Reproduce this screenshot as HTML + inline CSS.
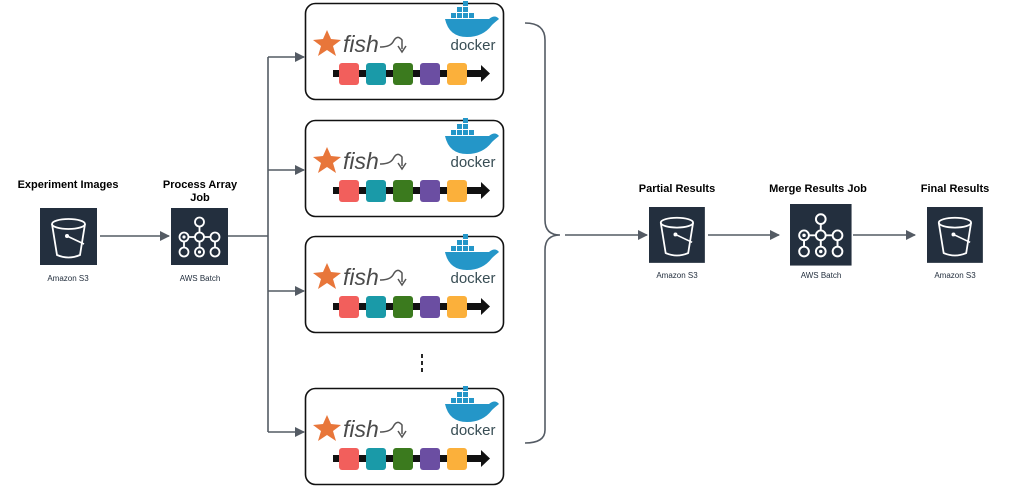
<!DOCTYPE html>
<html><head><meta charset="utf-8"><style>
body{margin:0;background:#fff;}
svg{display:block;font-family:"Liberation Sans",sans-serif;}
</style></head><body>
<svg width="1024" height="487" viewBox="0 0 1024 487">
<defs>
<marker id="ar" markerWidth="10" markerHeight="10" refX="9" refY="5" orient="auto" markerUnits="userSpaceOnUse">
<path d="M0,0 L10,5 L0,10 z" fill="#545b64"/></marker>
<g id="s3">
<rect width="57" height="57" fill="#232f3e"/>
<path d="M12,16 L17,47 Q28.5,52 40,47 L45,16" fill="none" stroke="#fff" stroke-width="1.8"/>
<ellipse cx="28.5" cy="16" rx="16.5" ry="5" fill="none" stroke="#fff" stroke-width="1.8"/>
<path d="M27,28 L44,36" stroke="#fff" stroke-width="1.6"/><circle cx="27" cy="28" r="2" fill="#fff"/>
</g>
<g id="bt">
<rect width="57" height="57" fill="#232f3e"/>
<g fill="none" stroke="#fff" stroke-width="1.8">
<circle cx="28.5" cy="14" r="4.5"/><circle cx="13" cy="29" r="4.5"/><circle cx="28.5" cy="29" r="4.5"/><circle cx="44" cy="29" r="4.5"/>
<circle cx="13" cy="44" r="4.5"/><circle cx="28.5" cy="44" r="4.5"/><circle cx="44" cy="44" r="4.5"/>
<path d="M28.5,18.5V24.5M17.5,29H24M33,29H39.5M44,33.5V39.5M13,33.5V39.5M28.5,33.5V39.5"/>
</g><circle cx="13" cy="29" r="1.6" fill="#fff"/><circle cx="28.5" cy="44" r="1.6" fill="#fff"/>
</g>
<g id="card">
<rect x="0.5" y="0.5" width="198" height="96" rx="10" fill="#fff" stroke="#111" stroke-width="1.6"/>
<path d="M22,27 l4,9 10,1 -8,6 3,10 -9,-6 -9,6 3,-10 -8,-6 10,-1z" fill="#e8763a"/>
<text x="38" y="49" font-size="23" font-style="italic" fill="#4a4a4a">fish</text>
<path d="M75,44 Q85,44 88,39 Q92,31 97,37 L97,46" fill="none" stroke="#555" stroke-width="1.5"/>
<path d="M93,43 L97,49 L101,43" fill="none" stroke="#555" stroke-width="1.5"/>
<rect x="28" y="67" width="150" height="7" fill="#111"/>
<path d="M176,62 L185,70.5 L176,79z" fill="#111"/>
<rect x="34" y="60" width="20" height="22" rx="3" fill="#f25f5c"/>
<rect x="61" y="60" width="20" height="22" rx="3" fill="#1a9aa8"/>
<rect x="88" y="60" width="20" height="22" rx="3" fill="#3b7a1e"/>
<rect x="115" y="60" width="20" height="22" rx="3" fill="#6b4ea2"/>
<rect x="142" y="60" width="20" height="22" rx="3" fill="#fbb03b"/>
<g fill="#2496c8"><rect x="152" y="4" width="5" height="5"/><rect x="158" y="4" width="5" height="5"/><rect x="158" y="10" width="5" height="5"/><rect x="152" y="10" width="5" height="5"/><rect x="164" y="10" width="5" height="5"/><rect x="146" y="10" width="5" height="5"/><rect x="158" y="-2" width="5" height="5"/>
<path d="M140,16 H184 Q190,11 194,16 Q189,20 187,22 Q178,34 162,34 Q144,34 140,16z"/></g>
<text x="168" y="47" font-size="15" fill="#384d54" text-anchor="middle">docker</text>
</g>
</defs>
<rect width="1024" height="487" fill="#fff"/>
<g font-size="11" font-weight="bold" fill="#000" text-anchor="middle">
<text x="68" y="188">Experiment Images</text>
<text x="200" y="188">Process Array</text><text x="200" y="201">Job</text>
<text x="677" y="192">Partial Results</text>
<text x="818" y="192">Merge Results Job</text>
<text x="955" y="192">Final Results</text>
</g>
<g font-size="8" fill="#232f3e" text-anchor="middle">
<text x="68" y="281">Amazon S3</text>
<text x="200" y="281">AWS Batch</text>
<text x="677" y="278">Amazon S3</text>
<text x="821" y="278">AWS Batch</text>
<text x="955" y="278">Amazon S3</text>
</g>
<use href="#s3" x="40" y="208"/>
<use href="#bt" x="171" y="208"/>
<use href="#s3" transform="translate(649,207) scale(0.98)"/>
<use href="#bt" transform="translate(790,204) scale(1.08)"/>
<use href="#s3" transform="translate(927,207) scale(0.98)"/>
<g stroke="#545b64" stroke-width="1.6" fill="none">
<path d="M100,236 H169" marker-end="url(#ar)"/>
<path d="M228,236 H268 M268,57 V432"/>
<path d="M268,57 H304" marker-end="url(#ar)"/>
<path d="M268,170 H304" marker-end="url(#ar)"/>
<path d="M268,291 H304" marker-end="url(#ar)"/>
<path d="M268,432 H304" marker-end="url(#ar)"/>
<path d="M525,23 Q545,23 545,40 V220 Q545,235 560,235 Q545,235 545,250 V430 Q545,443 525,443"/>
<path d="M565,235 H647" marker-end="url(#ar)"/>
<path d="M708,235 H779" marker-end="url(#ar)"/>
<path d="M853,235 H915" marker-end="url(#ar)"/>
</g>
<path d="M422,354 V374" stroke="#111" stroke-width="1.8" stroke-dasharray="4,3"/>
<use href="#card" x="305" y="3"/>
<use href="#card" x="305" y="120"/>
<use href="#card" x="305" y="236"/>
<use href="#card" x="305" y="388"/>
</svg>
</body></html>
